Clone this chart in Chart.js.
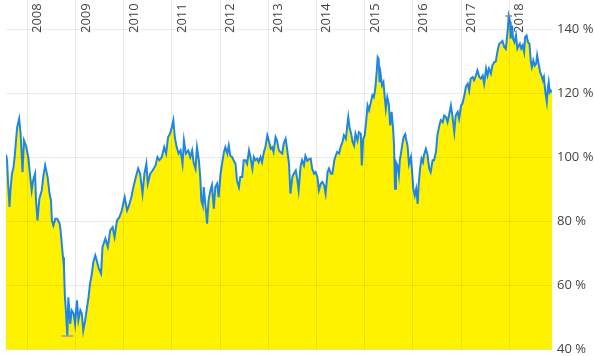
<!DOCTYPE html>
<html><head><meta charset="utf-8">
<script src="https://cdn.jsdelivr.net/npm/chart.js@4/dist/chart.umd.min.js"></script>
<style>html,body{margin:0;padding:0;background:#fff}#wrap{width:594px;height:356px}</style>
</head><body><div id="wrap"><canvas id="c" width="594" height="356"></canvas></div>
<script>
// x-axis year ticks and labels
const years = [2008,2009,2010,2011,2012,2013,2014,2015,2016,2017,2018];
const yearLabels = ['2008','2009','2010','2011','2012','2013','2014','2015','2016','2017','2018'];
// y-axis tick values (percent)
const yTicks = [40,60,80,100,120,140];
// dates as decimal years
const dates = [
2007.557,2007.58,2007.60,2007.63,2007.65,2007.68,2007.71,2007.74,2007.77,2007.79,2007.83,2007.86,2007.90,2007.93,2007.97,
2008.02,2008.06,2008.09,2008.12,2008.16,2008.18,2008.21,2008.25,2008.30,2008.33,2008.37,2008.42,2008.46,2008.49,2008.51,
2008.54,2008.58,2008.62,2008.67,2008.69,2008.72,2008.74,2008.76,2008.78,2008.80,2008.83,2008.85,2008.89,2008.92,2008.96,2008.99,
2009.03,2009.06,2009.10,2009.13,2009.16,2009.20,2009.23,2009.27,2009.30,2009.34,2009.37,2009.41,2009.44,2009.48,2009.53,2009.56,
2009.62,2009.67,2009.72,2009.77,2009.81,2009.86,2009.91,2009.96,
2010.02,2010.07,2010.10,2010.16,2010.20,2010.25,2010.30,2010.34,2010.39,2010.43,2010.47,2010.50,2010.55,2010.60,2010.66,2010.70,
2010.74,2010.79,2010.84,2010.88,2010.92,2010.96,
2011.00,2011.03,2011.06,2011.10,2011.14,2011.18,2011.22,2011.25,2011.29,2011.34,2011.38,2011.42,2011.45,2011.49,2011.52,2011.56,
2011.59,2011.61,2011.63,2011.64,2011.66,2011.70,2011.73,2011.76,2011.80,2011.83,2011.87,2011.90,2011.94,2011.97,
2012.01,2012.04,2012.08,2012.11,2012.15,2012.18,2012.21,2012.25,2012.28,2012.32,2012.35,2012.39,2012.42,2012.46,2012.49,2012.53,
2012.56,2012.60,2012.63,2012.67,2012.70,2012.73,2012.77,2012.80,2012.84,2012.87,2012.91,2012.94,2012.98,
2013.01,2013.05,2013.08,2013.11,2013.15,2013.18,2013.22,2013.25,2013.29,2013.32,2013.36,2013.39,2013.43,2013.46,2013.50,2013.53,
2013.57,2013.60,2013.63,2013.67,2013.70,2013.74,2013.77,2013.81,2013.84,2013.88,2013.91,2013.95,2013.98,
2014.02,2014.05,2014.09,2014.12,2014.16,2014.19,2014.23,2014.26,2014.30,2014.33,2014.37,2014.40,2014.43,2014.47,2014.50,2014.54,
2014.57,2014.61,2014.64,2014.66,2014.69,2014.72,2014.75,2014.78,2014.81,2014.85,2014.88,2014.92,2014.94,2014.97,
2015.00,2015.03,2015.06,2015.09,2015.13,2015.16,2015.19,2015.22,2015.25,2015.27,2015.29,2015.31,2015.33,2015.36,2015.39,2015.42,
2015.44,2015.47,2015.50,2015.53,2015.56,2015.59,2015.61,2015.63,2015.65,2015.68,2015.71,2015.73,2015.75,2015.78,2015.81,2015.84,
2015.85,2015.89,2015.92,2015.96,2015.98,
2016.01,2016.04,2016.07,2016.10,2016.12,2016.15,2016.18,2016.21,2016.23,2016.27,2016.30,2016.34,2016.37,2016.41,2016.44,2016.48,
2016.51,2016.55,2016.58,2016.62,2016.65,2016.69,2016.72,2016.75,2016.79,2016.82,2016.86,2016.89,2016.93,2016.96,
2017.00,2017.03,2017.07,2017.10,2017.14,2017.17,2017.20,2017.24,2017.27,2017.31,2017.34,2017.38,2017.41,2017.45,2017.48,2017.52,
2017.55,2017.58,2017.62,2017.65,2017.69,2017.72,2017.76,2017.79,2017.83,2017.86,2017.90,2017.93,2017.97,2017.99,
2018.02,2018.03,2018.06,2018.08,2018.11,2018.14,2018.17,2018.20,2018.22,2018.25,2018.28,2018.31,2018.33,2018.36,2018.39,2018.42,
2018.45,2018.47,2018.50,2018.53,2018.56,2018.58,2018.61,2018.64,2018.67,2018.70,2018.72,2018.75,2018.78,2018.80,2018.82,2018.84,
2018.86,2018.888
];
// performance in percent
const values = [
101,99,92,84.6,90,95,96.7,100.7,106.4,109.6,112.2,107.5,95.5,105.4,103.8,
100.2,94,89.8,92.9,95,86.7,80.4,87.2,89.8,94,97.6,94,88.8,86.7,80.4,
78.8,80.9,80.9,79.4,77.3,72.1,68.9,65.8,56.4,52.3,44.3,56.4,48.1,52.3,51.3,48.1,
55.4,49.2,52.3,51.3,46,49.2,52.3,56.4,60.6,63.8,67.4,69.5,67.9,65.5,63.8,72.1,
74.7,72.1,77.3,78.3,75.2,80.4,81.4,83.5,
87.7,83.5,84.6,87.7,90.8,93.9,96.6,95,88.8,95,98.1,91.9,95,96,97.6,100.2,
99.2,100.2,103.3,101.3,106.4,107.5,
109.6,111.7,106.4,103.3,101.3,102.3,98.1,105.4,101.3,102.3,100.2,102.3,98.6,96.6,103.3,99.2,
93.5,86.7,85.6,85.1,90.8,84.6,79.4,86.7,89.8,91.4,84.1,90.8,91.9,87.7,
95,98.1,101.8,103.3,101.3,103.8,100.7,100.2,99.2,98.1,92.9,90.8,94,94,99.2,99.2,
98.1,102.3,100.2,96.6,100.2,99.2,99.7,98.6,100.2,98.6,101.8,103.3,107,
105.4,102.8,103.3,101.8,106.4,105.4,102.3,101.8,101.3,104.4,105.9,102.8,98.1,88.8,94,95,
96,93.4,89.8,97.3,99.2,97.6,100.5,99,99.5,99.7,96.6,95,95.5,
94,89.8,91.9,92.4,91.4,88.8,95.5,96.6,95,95,99.2,100.7,101.8,101.3,103.3,104.9,
107,105.9,110.1,112.7,109.1,107.5,104.9,103.8,107.5,105.4,108,107.5,97.6,105.9,
107,111.1,116.3,114.8,117.4,119.5,118.9,121.6,126.8,131.4,130.9,123.6,126.3,122.6,123.6,118.4,
115.3,118.9,116.9,110.1,114.3,109.1,103.8,90.3,98.6,97.6,94.5,99.2,101,104,106.5,107.3,
106.4,103.8,98,100.2,96.6,
90.3,88.2,90.3,85.6,91.4,96.6,99.7,98.6,100.7,102.8,101.3,96.6,95.5,99.2,99.2,101.8,
107,110.1,111.7,111.1,113.2,112.7,111.1,113.2,116.3,113.2,108,113.2,114.3,112.2,
116.3,116.9,119.5,122.1,123.1,121,124.7,125.2,124.2,125.7,127.3,125.2,124.7,125.7,123.1,127.8,
125.7,127.8,126.3,128.8,129.9,130,133.5,135.5,136,136.5,134.5,134,140,144.3,
142.4,137.2,141.3,137.2,136.1,138.2,134.1,135.1,135.6,134.1,135.1,133,137.7,138.2,136.1,135.6,
129.9,128.3,130.4,128.8,129.4,132,129.4,126.8,125.7,124.2,125.2,120.5,117.4,121.6,123.6,120.5,
121,120.5
];

const series = dates.map((d,i)=>({x:d,y:values[i]}));
const minV = Math.min(...values), maxV = Math.max(...values);
const minT = dates[values.indexOf(minV)], maxT = dates[values.indexOf(maxV)];

const yearLabelPlugin = {
  id:'yearLabels',
  afterDatasetsDraw(chart){
    const xs = chart.scales.x, ctx = chart.ctx;
    ctx.save();
    ctx.font = '13px "Open Sans"';
    ctx.fillStyle = '#444';
    ctx.textAlign = 'left';
    ctx.textBaseline = 'alphabetic';
    years.forEach((y,i)=>{
      const px = xs.getPixelForValue(y);
      ctx.save();
      ctx.translate(px + 14, chart.chartArea.top + 33);
      ctx.rotate(-Math.PI/2);
      ctx.fillText(yearLabels[i], 0, 0);
      ctx.restore();
    });
    ctx.restore();
  }
};

new Chart(document.getElementById('c'), {
  type:'line',
  data:{datasets:[
    {data:[{x:minT-0.12,y:minV},{x:minT+0.12,y:minV}], borderColor:'#9c9cc0', borderWidth:1.5, pointRadius:0, fill:false},
    {data:[{x:maxT-0.07,y:maxV},{x:maxT+0.07,y:maxV}], borderColor:'#888888', borderWidth:1.5, pointRadius:0, fill:false},
    {data:series, borderColor:'#1e86e6', borderWidth:2, backgroundColor:'#fff200', fill:'start', pointRadius:0, tension:0, borderJoinStyle:'miter'}
  ]},
  options:{
    responsive:false, animation:false, devicePixelRatio:1,
    layout:{padding:{left:6,right:0,top:0,bottom:6.3}},
    plugins:{legend:{display:false},tooltip:{enabled:false}},
    scales:{
      x:{type:'linear', min:2007.557, max:2018.888,
        afterBuildTicks:s=>{s.ticks = years.map(v=>({value:v}));},
        afterFit:s=>{s.height=0; s.paddingLeft=0; s.paddingRight=0;},
        ticks:{display:false},
        grid:{color:'rgba(0,0,0,0.08)', drawTicks:false, z:1},
        border:{display:false}},
      y:{type:'linear', position:'right', min:40, max:40+349.7/3.2,
        afterBuildTicks:s=>{s.ticks = yTicks.map(v=>({value:v}));},
        afterFit:s=>{s.width=42; s.paddingTop=0; s.paddingBottom=0;},
        ticks:{padding:5, color:'#444', font:{family:'"Open Sans"', size:13}, callback:v=>v+' %'},
        grid:{color:'rgba(0,0,0,0.08)', drawTicks:false, z:1},
        border:{display:false}}
    }
  },
  plugins:[yearLabelPlugin]
});
</script>
</body></html>
